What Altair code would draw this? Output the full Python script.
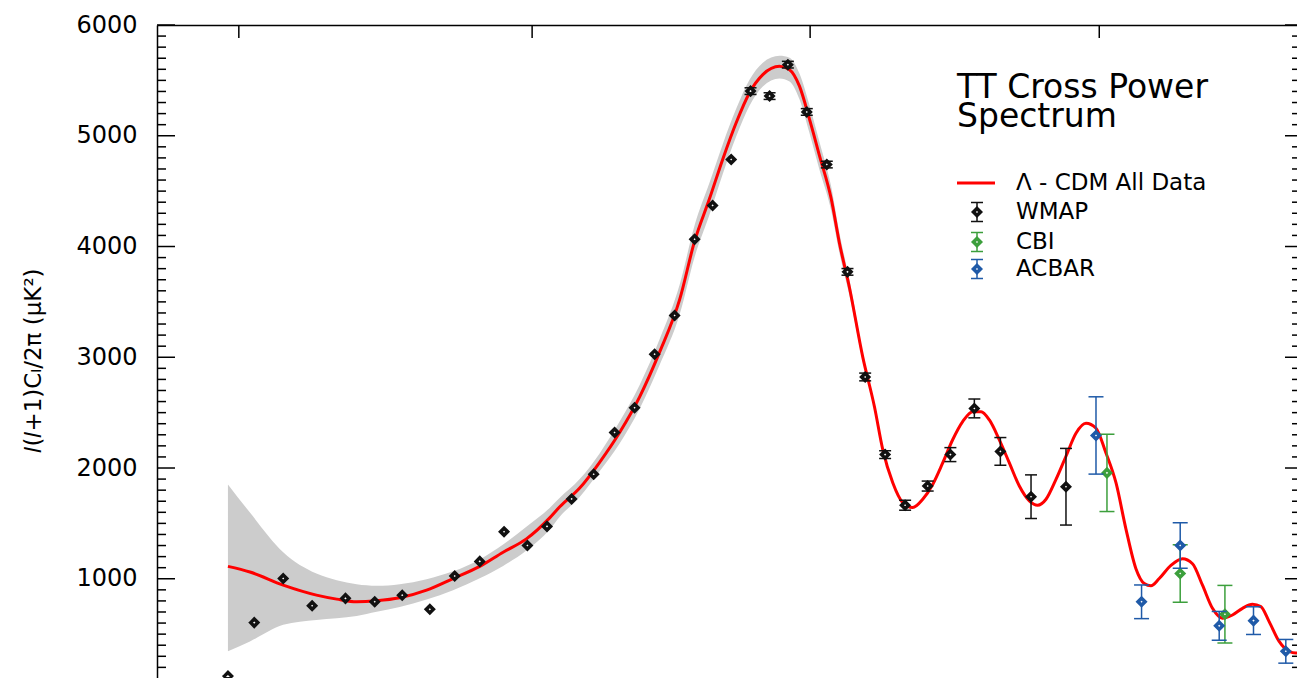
import altair as alt
import pandas as pd

# ---------------- data ----------------
# Lambda-CDM model curve (multipole ell on the chart's own axis, value in uK^2)
curve_ell = [1.4, 2.75, 5.91, 10.6, 14.3, 18.6, 23.6, 30.3, 39.4, 49.8, 61.8, 73.6, 86.6,
             100.9, 107.5, 121.3, 136.1, 152.0, 169.0, 187.0, 206.2, 221.3, 237.0, 251.5,
             266.7, 282.2, 298.3, 319.3, 332.3, 345.5, 359.1, 373.0, 389.7, 401.8, 416.7,
             437.0, 455.3, 468.6, 484.9, 501.5, 518.4, 535.8, 553.4, 571.4, 589.7, 608.4,
             627.5, 643.7, 660.1, 680.0, 700.4, 721.1, 742.2, 759.9, 778.2, 800.2, 822.6,
             845.4, 868.6, 892.2, 916.1, 940.4, 965.1, 990.1, 1011.3, 1028.5, 1050.1,
             1081.0, 1112.1, 1139.4, 1167.1, 1195.2, 1223.7, 1252.6, 1281.9, 1311.6,
             1336.9, 1362.1, 1392.9, 1424.1, 1445.3, 1468.5]
curve_val = [1112, 1061, 942, 852, 816, 792, 801, 828, 897, 1002, 1112, 1240, 1360,
             1550, 1650, 1819, 2052, 2321, 2643, 3046, 3520, 4048, 4433, 4791,
             5120, 5389, 5552, 5627, 5597, 5448, 5150, 4821, 4433, 4030, 3628,
             3001, 2553, 2166, 1867, 1688, 1643, 1718, 1852, 2046, 2255, 2419,
             2509, 2509, 2434, 2255, 2046, 1837, 1703, 1664, 1718, 1897, 2106,
             2314, 2404, 2359, 2135, 1867, 1449, 1091, 957, 936, 1002,
             1121, 1181, 1136, 942, 733, 644, 673, 733, 769,
             748, 613, 434, 345, 330, 330]

# grey band (cosmic variance) for the first part of the curve
band_hi = [1852, 1598, 1240, 1047, 987, 951, 937, 951, 996, 1067, 1175, 1309, 1470,
           1640, 1731, 1900, 2132, 2419, 2750, 3162, 3654, 4192, 4577, 4926,
           5245, 5505, 5660, 5722, 5705, 5561, 5275, 4944, 4541, 4120, 3699,
           3037, 2553]
band_lo = [345, 434, 584, 628, 643, 664, 703, 745, 812, 897, 1004, 1116, 1255,
           1445, 1560, 1739, 1971, 2222, 2535, 2929, 3386, 3905, 4290, 4657,
           4995, 5272, 5445, 5517, 5490, 5329, 5024, 4693, 4326, 3941, 3556,
           2965, 2553]

wmap_ell = [1.4, 3.08, 5.91, 9.90, 16.1, 23.1, 31.1, 40.6, 50.5, 61.8, 74.1, 87.2, 99.2,
            115.6, 131.6, 147.9, 164.6, 182.4, 201.3, 221.3, 240.3, 260.9, 283.4, 306.7,
            330.1, 355.4, 383.4, 413.7, 440.7, 472.4, 505.5, 544.5, 585.5, 630.7, 682.1,
            745.8, 822.6]
wmap_val = [121, 604, 1002, 756, 823, 792, 852, 724, 1025, 1157, 1425, 1300, 1473,
            1721, 1944, 2320, 2544, 3028, 3377, 4066, 4371, 4785, 5403, 5358,
            5642, 5215, 4740, 3771, 2822, 2121, 1664, 1837, 2121, 2538, 2150,
            1741, 1831]
wmap_err = [0, 0, 0, 0, 0, 0, 0, 0, 0, 0, 0, 0, 0,
            0, 0, 0, 0, 0, 0, 0, 0, 0, 30, 30,
            30, 30, 30, 30, 35, 35, 45, 45, 63, 85, 125,
            197, 346]

cbi_ell = [918.5, 1105.9, 1230.7]
cbi_val = [1956, 1047, 680]
cbi_err = [349, 260, 260]

acbar_ell = [892.2, 1004.4, 1105.9, 1214.3, 1314.7, 1413.7]
acbar_val = [2294, 792, 1300, 575, 622, 345]
acbar_err = [349, 152, 206, 130, 125, 107]

# axis ticks
y_major = [0, 1000, 2000, 3000, 4000, 5000, 6000]
y_minor = [v for v in range(200, 6000, 100) if v % 1000 != 0]
top_ticks = [2, 90, 360, 900]          # 90 deg, 2 deg, 0.5 deg, 0.2 deg

legend_title = ["TT Cross Power", "Spectrum"]
legend_labels = ["\u039b - CDM All Data", "WMAP", "CBI", "ACBAR"]

Y_TITLE = "\U0001D459(\U0001D459+1)C\u2097/2\u03c0 (\u03bcK\u00b2)"

# ---------------- styling ----------------
W, H = 1140, 653
X_HIGH = 1449          # multipole at the (cropped) right edge of the plot
Y_LOW = 104            # value at the (cropped) bottom edge of the plot
FONT = "DejaVu Sans"
RED = "#ff0000"
GREY = "#cccccc"
BLACK = "#111111"
GREEN = "#3c9f3c"
BLUE = "#1f5aa8"

xscale = alt.Scale(type="pow", exponent=0.4, domain=[0, X_HIGH], nice=False)
yscale = alt.Scale(domain=[Y_LOW, 6000], nice=False)

XAX = alt.Axis(orient="top", labels=False, ticks=False, domain=True, grid=False,
               domainColor="black", domainWidth=1.5)
YAX = alt.Axis(orient="left", values=y_major[1:], format="d", ticks=False, tickSize=0,
               labelPadding=20, domain=True, grid=False, domainColor="black",
               domainWidth=1.5, labelFont=FONT, labelFontSize=24, labelColor="black",
               title=Y_TITLE, titleFont=FONT, titleFontSize=23, titleFontWeight="normal",
               titleColor="black", titleAngle=270, titleAlign="center",
               titleBaseline="middle", titleX=-124, titleY=335)


def X(field="ell"):
    return alt.X(f"{field}:Q", scale=xscale, axis=XAX, title=None)


def Y(field):
    return alt.Y(f"{field}:Q", scale=yscale, axis=YAX)


band_df = pd.DataFrame({"ell": curve_ell[:len(band_hi)], "hi": band_hi, "lo": band_lo})
curve_df = pd.DataFrame({"ell": curve_ell, "val": curve_val})

band = alt.Chart(band_df).mark_area(color=GREY, interpolate="monotone", opacity=1).encode(
    x=X(), y=Y("hi"), y2="lo:Q")
line = alt.Chart(curve_df).mark_line(color=RED, strokeWidth=3, interpolate="monotone",
                                     clip=True).encode(x=X(), y=Y("val"))

DIAMOND = dict(shape="diamond", size=50, strokeWidth=3.5, fill="white", fillOpacity=1, opacity=1)


def series(ell, val, err, color, cap):
    df = pd.DataFrame({"ell": ell, "val": val, "err": err})
    base = alt.Chart(df).transform_calculate(
        lo="datum.val - datum.err", hi="datum.val + datum.err")
    bars = base.transform_filter("datum.err > 0")
    bar = bars.mark_rule(color=color, strokeWidth=1.5).encode(x=X(), y=Y("lo"), y2="hi:Q")
    cap_lo = bars.mark_tick(color=color, orient="horizontal", size=cap, thickness=1.5,
                            opacity=1).encode(x=X(), y=Y("lo"))
    cap_hi = bars.mark_tick(color=color, orient="horizontal", size=cap, thickness=1.5,
                            opacity=1).encode(x=X(), y=Y("hi"))
    pts = base.mark_point(stroke=color, **DIAMOND).encode(x=X(), y=Y("val"))
    return [bar, cap_lo, cap_hi, pts]


# frame ticks (inward)
def yticks(vals, x0, x1):
    return alt.Chart(pd.DataFrame({"v": vals})).mark_rule(color="black", strokeWidth=1.5).encode(
        y=Y("v"), x=alt.value(x0), x2=alt.value(x1))


ticks = [
    yticks(y_major[1:], 0, 18), yticks(y_minor, 0, 9),
    yticks(y_major[1:], W, W - 12), yticks(y_minor, W, W - 5),
    alt.Chart(pd.DataFrame({"ell": top_ticks})).mark_rule(color="black", strokeWidth=1.5).encode(
        x=X(), y=alt.value(0), y2=alt.value(13)),
]


# legend (drawn inside the plot)
def one(label):
    return alt.Chart(pd.DataFrame({"label": [label]}))


leg = []
leg.append(one("title").mark_text(align="left", baseline="alphabetic", font=FONT,
                                  fontSize=33, lineHeight=29, color="black",
                                  text=legend_title).encode(
    x=alt.value(800), y=alt.value(73)))
leg.append(one(legend_labels[0]).mark_rule(color=RED, strokeWidth=3).encode(
    x=alt.value(800), x2=alt.value(838), y=alt.value(158)))
leg_rows = [(legend_labels[0], None, 158), (legend_labels[1], BLACK, 187),
            (legend_labels[2], GREEN, 217), (legend_labels[3], BLUE, 244)]
for label, col, yy in leg_rows:
    leg.append(one(label).mark_text(align="left", baseline="middle", font=FONT, fontSize=23,
                                    color="black").encode(
        x=alt.value(859), y=alt.value(yy), text="label:N"))
    if col is None:
        continue
    leg.append(one(label).mark_rule(color=col, strokeWidth=1.5).encode(
        x=alt.value(820), y=alt.value(yy - 9.5), y2=alt.value(yy + 9.5)))
    for dy in (-9.5, 9.5):
        leg.append(one(label).mark_rule(color=col, strokeWidth=1.5).encode(
            x=alt.value(814), x2=alt.value(826), y=alt.value(yy + dy)))
    leg.append(one(label).mark_point(stroke=col, **DIAMOND).encode(
        x=alt.value(820), y=alt.value(yy)))

layers = [band, line]
layers += series(wmap_ell, wmap_val, wmap_err, BLACK, 12)
layers += series(cbi_ell, cbi_val, cbi_err, GREEN, 15)
layers += series(acbar_ell, acbar_val, acbar_err, BLUE, 15)
layers += ticks
layers += leg

chart = alt.layer(*layers).properties(
    width=W, height=H,
    autosize=alt.AutoSizeParams(type="none"),
    padding={"left": 149, "top": 17, "right": 0, "bottom": 0},
    background="white",
).configure_view(strokeWidth=0)

chart.save("out.html", embed_options={"renderer": "svg", "actions": False})
